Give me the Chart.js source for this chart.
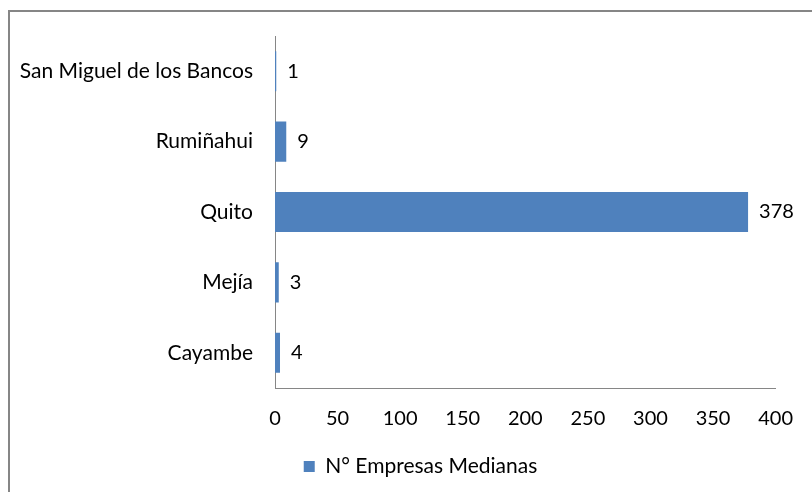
<!DOCTYPE html>
<html>
<head>
<meta charset="utf-8">
<script src="https://cdn.jsdelivr.net/npm/chart.js@4.4.1/dist/chart.umd.min.js"></script>
<style>
  html, body { margin: 0; padding: 0; background: #fff; }
  #wrap { width: 812px; height: 492px; position: relative; }
</style>
</head>
<body>
<div id="wrap"><canvas id="c" width="812" height="492"></canvas></div>
<script>
const categories = ["San Miguel de los Bancos", "Rumiñahui", "Quito", "Mejía", "Cayambe"];
const seriesName = "N° Empresas Medianas";
const values = [1, 9, 378, 3, 4];
const xTicks = [0, 50, 100, 150, 200, 250, 300, 350, 400];

const FONT = "Lato, 'Open Sans', sans-serif";
const TEXT = "#000000";
const AXIS = "#868686";

const framePlugin = {
  id: 'frame',
  beforeDraw(chart) {
    const ctx = chart.ctx;
    ctx.save();
    ctx.fillStyle = '#ffffff';
    ctx.fillRect(0, 0, chart.width, chart.height);
    ctx.strokeStyle = AXIS;
    ctx.lineWidth = 2;
    ctx.beginPath();
    ctx.moveTo(9, chart.height + 2);
    ctx.lineTo(9, 11);
    ctx.lineTo(chart.width + 2, 11);
    ctx.stroke();
    ctx.restore();
  }
};

const legendShift = {
  id: 'legendShift',
  afterLayout(chart) {
    if (chart.legend) {
      chart.legend.left += 31;
      chart.legend.right += 31;
    }
  }
};

const labelPlugin = {
  id: 'valueLabels',
  afterDatasetsDraw(chart) {
    const ctx = chart.ctx;
    ctx.save();
    ctx.font = "20px " + FONT;
    ctx.fillStyle = TEXT;
    ctx.textAlign = 'left';
    ctx.textBaseline = 'middle';
    chart.getDatasetMeta(0).data.forEach((el, i) => {
      ctx.fillText(String(values[i]), el.x + 11, el.y);
    });
    ctx.restore();
  }
};

new Chart(document.getElementById('c'), {
  type: 'bar',
  data: {
    labels: categories,
    datasets: [{
      label: seriesName,
      data: values,
      backgroundColor: '#4F81BD',
      borderWidth: 0,
      barPercentage: 0.57,
      categoryPercentage: 1.0
    }]
  },
  options: {
    indexAxis: 'y',
    responsive: false,
    animation: false,
    devicePixelRatio: 1,
    layout: { padding: { left: 0, right: 33, top: 36, bottom: 5 } },
    scales: {
      x: {
        min: 0, max: 400,
        afterBuildTicks(scale) { scale.ticks = xTicks.map(v => ({ value: v })); },
        grid: { display: false, drawTicks: false },
        border: { display: true, color: AXIS, width: 1 },
        ticks: { color: TEXT, font: { family: FONT, size: 20 }, padding: 19, maxRotation: 0 },
        afterFit(scale) { scale.height = 60; }
      },
      y: {
        offset: true,
        grid: { display: false, drawTicks: false },
        border: { display: true, color: AXIS, width: 1 },
        ticks: { color: TEXT, font: { family: FONT, size: 21 }, padding: 22 },
        afterFit(scale) { scale.width = 275; }
      }
    },
    plugins: {
      legend: {
        position: 'bottom',
        labels: {
          color: TEXT,
          font: { family: FONT, size: 21 },
          boxWidth: 11, boxHeight: 11, padding: 8
        }
      },
      tooltip: { enabled: false }
    }
  },
  plugins: [framePlugin, legendShift, labelPlugin]
});
</script>
</body>
</html>
